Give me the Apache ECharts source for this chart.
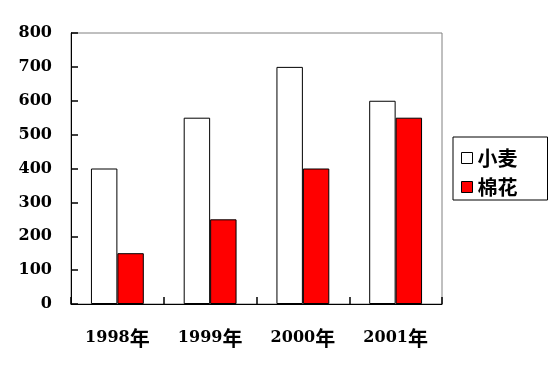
<!DOCTYPE html>
<html><head><meta charset="utf-8">
<script src="https://cdn.jsdelivr.net/npm/echarts@6/dist/echarts.min.js"></script>
<style>html,body{margin:0;padding:0;background:#fff}#c{width:555px;height:370px}</style>
</head><body><div id="c"></div>
<script>
const categories = ['1998年', '1999年', '2000年', '2001年'];
const wheat = [400, 550, 700, 600];
const cotton = [150, 250, 400, 550];
const seriesNames = ['小麦', '棉花'];
const yMin = 0, yMax = 800, yStep = 100;

const chart = echarts.init(document.getElementById('c'), null, {renderer: 'canvas'});
chart.setOption({
  animation: false,
  backgroundColor: '#fff',
  grid: {left: 71, top: 33, right: 113, bottom: 66, show: true, borderColor: '#808080', borderWidth: 1},
  legend: {
    orient: 'vertical', left: 453, top: 137,
    padding: [11, 30, 3, 8],
    backgroundColor: '#fff', borderColor: '#000', borderWidth: 1, borderRadius: 0,
    icon: 'rect',
    itemWidth: 11, itemHeight: 11, itemGap: 9, itemTextGap: 6,
    textStyle: {fontFamily: 'Noto Sans CJK SC', fontWeight: 'bold', fontSize: 20, lineHeight: 20, color: '#000'},
    data: [
      {name: seriesNames[0], icon: 'rect', itemStyle: {color: '#fff', borderColor: '#000', borderWidth: 1}},
      {name: seriesNames[1], icon: 'rect', itemStyle: {color: '#ff0000', borderColor: '#000', borderWidth: 1}}
    ]
  },
  xAxis: {
    type: 'category', data: categories,
    axisLine: {show: true, lineStyle: {color: '#000', width: 1}},
    axisTick: {show: true, interval: 0, inside: true, length: 7, lineStyle: {color: '#000', width: 1.5}},
    axisLabel: {
      show: true, interval: 0, margin: 24, color: '#000',
      formatter: v => '{n|' + v.replace('年', '') + '}{c|年}',
      rich: {
        n: {fontFamily: 'DejaVu Serif', fontWeight: 'bold', fontSize: 16, color: '#000'},
        c: {fontFamily: 'Noto Sans CJK SC', fontWeight: 'bold', fontSize: 20, color: '#000'}
      }
    }
  },
  yAxis: {
    type: 'value', min: yMin, max: yMax, interval: yStep,
    axisLine: {show: true, lineStyle: {color: '#000', width: 1}},
    axisTick: {show: true, inside: true, length: 7, lineStyle: {color: '#000', width: 1.5}},
    splitLine: {show: false},
    axisLabel: {margin: 19, color: '#000', fontFamily: 'DejaVu Serif', fontWeight: 'bold', fontSize: 16}
  },
  series: [
    {name: seriesNames[0], type: 'bar', data: wheat, barGap: '0%', barCategoryGap: '43%',
     itemStyle: {color: '#fff', borderColor: '#000', borderWidth: 1, borderRadius: 0}},
    {name: seriesNames[1], type: 'bar', data: cotton, barGap: '0%', barCategoryGap: '43%',
     itemStyle: {color: '#ff0000', borderColor: '#000', borderWidth: 1, borderRadius: 0}}
  ]
});
</script></body></html>
